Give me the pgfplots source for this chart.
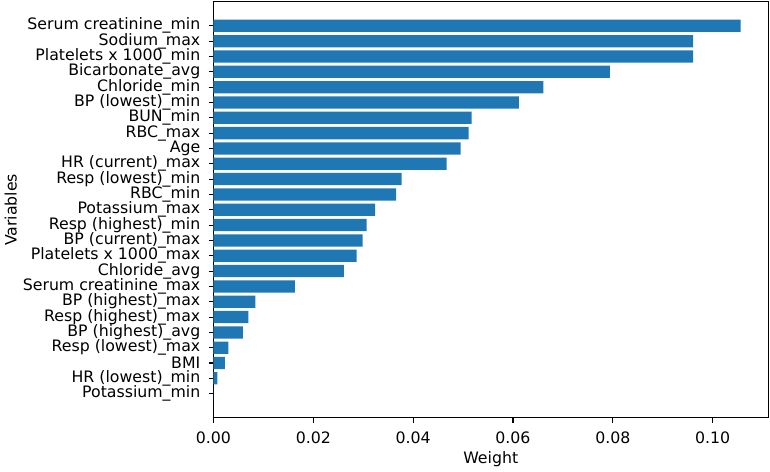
\documentclass[border=0pt]{standalone}
\usepackage{pgfplots}
\pgfplotsset{compat=1.18}
\usepackage{fontspec}
\setmainfont{DejaVu Sans}
\definecolor{tabblue}{HTML}{1F77B4}
\begin{document}
\begin{tikzpicture}
\begin{axis}[
  scale only axis,
  width=401.3pt, height=301pt,
  xmin=0, xmax=0.1111,
  ymin=-1.58, ymax=25.56,
  xbar, bar width=0.8,
  axis line style={line width=0.8pt, black},
  tick align=outside,
  major tick length=3.5pt,
  every tick/.style={black, line width=0.8pt},
  xtick={0,0.02,0.04,0.06,0.08,0.10},
  xtick pos=bottom, ytick pos=left,
  /pgf/number format/assume math mode=true,
  xticklabel style={/pgf/number format/fixed,/pgf/number format/fixed zerofill,/pgf/number format/precision=2, font=\fontsize{11.4pt}{13.5pt}\selectfont, yshift=-3pt},
  scaled x ticks=false,
  ytick={0,...,24},
  yticklabels={Potassium\_min, HR (lowest)\_min, BMI, Resp (lowest)\_max, BP (highest)\_avg, Resp (highest)\_max, BP (highest)\_max, Serum creatinine\_max, Chloride\_avg, Platelets x 1000\_max, BP (current)\_max, Resp (highest)\_min, Potassium\_max, RBC\_min, Resp (lowest)\_min, HR (current)\_max, Age, RBC\_max, BUN\_min, BP (lowest)\_min, Chloride\_min, Bicarbonate\_avg, Platelets x 1000\_min, Sodium\_max, Serum creatinine\_min},
  yticklabel style={font=\fontsize{11.4pt}{13.5pt}\selectfont, xshift=-2.5pt},
  xlabel={Weight}, ylabel={Variables},
  every axis x label/.style={at={(axis description cs:0.5,-0.0997)}, anchor=center, font=\fontsize{11.4pt}{13.5pt}\selectfont},
  every axis y label/.style={at={(axis description cs:-0.3656,0.5)}, rotate=90, anchor=center, font=\fontsize{11.4pt}{13.5pt}\selectfont},
]
\addplot[fill=tabblue, draw=none] coordinates {
(0.0,0) (0.0008,1) (0.0023,2) (0.0030,3) (0.0059,4) (0.0070,5) (0.0084,6) (0.0163,7) (0.0261,8) (0.0287,9) (0.0299,10) (0.0307,11) (0.0324,12) (0.0366,13) (0.0377,14) (0.0467,15) (0.0495,16) (0.0511,17) (0.0517,18) (0.0612,19) (0.0661,20) (0.0794,21) (0.0961,22) (0.0961,23) (0.1056,24)
};
\end{axis}
\useasboundingbox (-151.7pt,-37.4pt) rectangle (402.7pt,302.4pt);
\end{tikzpicture}
\end{document}
